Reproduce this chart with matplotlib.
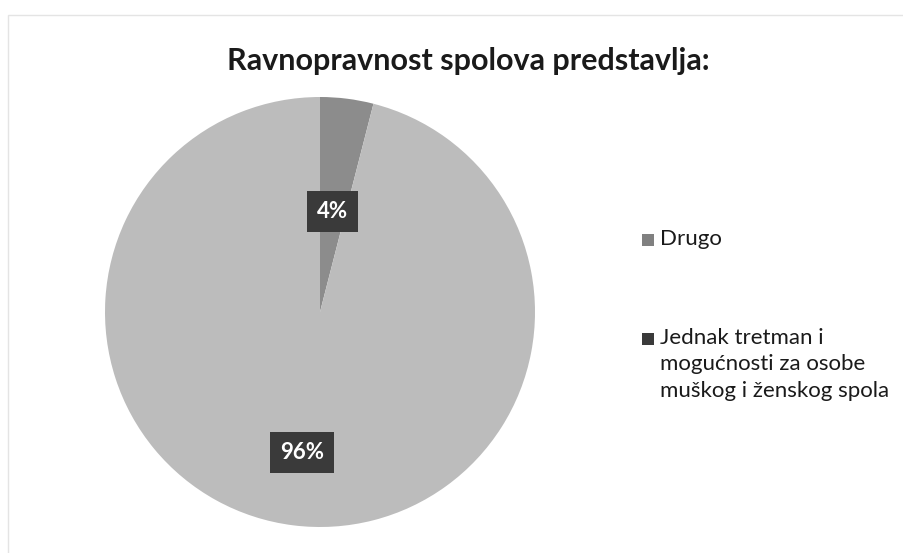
import matplotlib
matplotlib.use("Agg")
import matplotlib.pyplot as plt
from matplotlib.patches import Rectangle

# podaci
labels = ["Drugo", "Jednak tretman i\nmogućnosti za osobe\nmuškog i ženskog spola"]
values = [4, 96]
pie_colors = ["#8c8c8c", "#bcbcbc"]
legend_colors = ["#808080", "#3a3a3a"]
title = "Ravnopravnost spolova predstavlja:"

plt.rcParams["font.family"] = ["Lato", "DejaVu Sans"]

W, H = 904, 553
fig = plt.figure(figsize=(W / 100, H / 100), dpi=100)
fig.patch.set_facecolor("white")

# blagi okvir skeniranog grafikona
fig.add_artist(Rectangle((8 / W, -0.01), 1.0, 1 - 15 / H + 0.01,
                         transform=fig.transFigure, fill=False,
                         edgecolor="#e4e4e4", linewidth=1))

ax = fig.add_axes([105 / W, 26 / H, 430 / W, 430 / H])
wedges, texts, autotexts = ax.pie(
    values,
    colors=pie_colors,
    startangle=90,
    counterclock=False,
    radius=1,
    autopct="%d%%",
    pctdistance=0.47,
    wedgeprops=dict(linewidth=0),
    textprops=dict(color="white", fontsize=16, fontweight="bold"),
)
# 96% oznaka malo dalje od sredine
x, y = autotexts[1].get_position()
autotexts[1].set_position((x * 0.66 / 0.47, y * 0.66 / 0.47))
for t in autotexts:
    t.set_bbox(dict(boxstyle="square,pad=0.45", facecolor="#3a3a3a", edgecolor="none"))
ax.set_xlim(-1, 1)
ax.set_ylim(-1, 1)
ax.set_aspect("equal")

fig.text(468 / W, 1 - 61 / H, title, ha="center", va="center",
         fontsize=22, fontweight="bold", color="#1a1a1a")

# legenda, ručno: kvadratić poravnat s prvim retkom
legend_y = [240, 339]
for lab, col, yy in zip(labels, legend_colors, legend_y):
    fig.add_artist(Rectangle((642 / W, 1 - (yy + 6) / H), 12 / W, 12 / H,
                             transform=fig.transFigure, facecolor=col, edgecolor="none"))
    fig.text(660 / W, 1 - (yy - 11) / H, lab, ha="left", va="top",
             fontsize=16, color="#1a1a1a", linespacing=1.4)

fig.savefig("out.png", dpi=100, facecolor="white")
plt.close(fig)
